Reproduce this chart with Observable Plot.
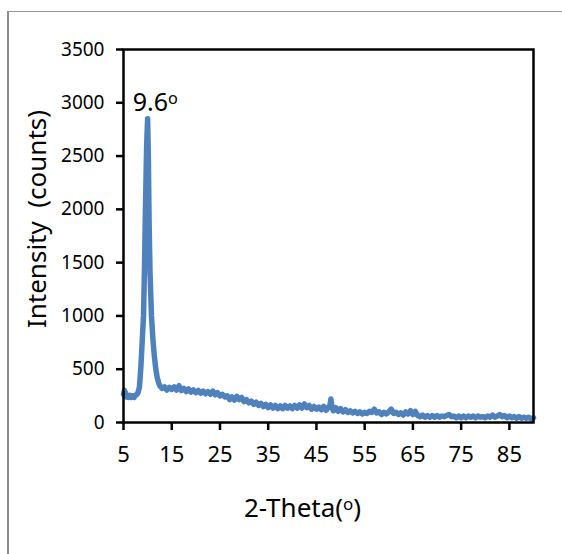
<!DOCTYPE html>
<html>
<head>
<meta charset="utf-8">
<script src="https://cdn.jsdelivr.net/npm/d3@7"></script>
<script src="https://cdn.jsdelivr.net/npm/@observablehq/plot@0.6"></script>
<style>
  html, body { margin: 0; padding: 0; background: white; overflow: hidden; }
  #wrap { position: relative; width: 562px; height: 554px; }
  #border { position: absolute; left: 7px; top: 11px; width: 600px; height: 600px;
            border-left: 2px solid #8a8a8a; border-top: 1px solid #959595; pointer-events: none; }
</style>
</head>
<body>
<div id="wrap"><div id="border"></div></div>
<script>
const twoTheta = [
  5.0, 5.2, 5.4, 5.6, 5.8, 6.0, 6.3, 6.6, 6.9, 7.2, 7.5, 7.8, 8.0, 8.3, 8.6, 8.9,
  9.15, 9.35, 9.55, 9.8, 10.0, 10.15, 10.3, 10.5, 10.8, 11.1, 11.4, 11.7, 12.0, 12.3, 12.6,
  13.0, 13.5, 14.0, 14.5, 15.0, 15.5, 16.0, 16.5, 17.0, 17.5, 18.0, 18.5, 19.0, 19.5,
  20.0, 20.5, 21.0, 21.5, 22.0, 22.5, 23.0, 23.5, 24.0, 24.5, 25.0, 25.5, 26.0, 26.5,
  27.0, 27.5, 28.0, 28.5, 29.0, 29.5, 30.0, 30.5, 31.0, 31.5, 32.0, 32.5, 33.0, 33.5,
  34.0, 34.5, 35.0, 35.5, 36.0, 36.5, 37.0, 37.5, 38.0, 38.5, 39.0, 39.5, 40.0, 40.5,
  41.0, 41.5, 42.0, 42.5, 43.0, 43.5, 44.0, 44.5, 45.0, 45.5, 46.0, 46.5, 47.0, 47.5,
  47.8, 48.0, 48.2, 48.5, 49.0, 49.5, 50.0, 50.5, 51.0, 51.5, 52.0, 52.5, 53.0, 53.5,
  54.0, 54.5, 55.0, 55.5, 56.0, 56.5, 57.0, 57.5, 58.0, 58.5, 59.0, 59.5, 60.0, 60.5,
  61.0, 61.5, 62.0, 62.5, 63.0, 63.5, 64.0, 64.5, 65.0, 65.5, 66.0, 66.5, 67.0, 67.5,
  68.0, 68.5, 69.0, 69.5, 70.0, 70.5, 71.0, 71.5, 72.0, 72.5, 73.0, 73.5, 74.0, 74.5,
  75.0, 75.5, 76.0, 76.5, 77.0, 77.5, 78.0, 78.5, 79.0, 79.5, 80.0, 80.5, 81.0, 81.5,
  82.0, 82.5, 83.0, 83.5, 84.0, 84.5, 85.0, 85.5, 86.0, 86.5, 87.0, 87.5, 88.0, 88.5,
  89.0, 89.5, 90.0
];
const intensity = [
  265, 300, 280, 240, 255, 235, 255, 235, 250, 235, 255, 265, 280, 330, 520, 780,
  1000, 1450, 2000, 2600, 2850, 2500, 1900, 1400, 1000, 780, 620, 500, 420, 370, 340,
  320, 335, 305, 330, 310, 335, 305, 345, 300, 320, 290, 315, 285, 305,
  280, 300, 275, 295, 270, 290, 265, 295, 260, 280, 250, 265, 240, 250,
  215, 240, 210, 245, 215, 235, 195, 215, 185, 200, 170, 190, 160, 180,
  150, 170, 140, 165, 135, 160, 130, 155, 130, 160, 135, 155, 130, 160,
  135, 165, 135, 175, 140, 160, 125, 150, 125, 145, 120, 150, 115, 145,
  160, 220, 150, 110, 140, 105, 130, 100, 120, 95, 110, 90, 105, 85,
  100, 80, 95, 85, 105, 95, 125, 90, 100, 75, 95, 80, 100, 125,
  85, 95, 75, 90, 70, 100, 80, 110, 75, 105, 65, 55, 70, 50,
  65, 50, 65, 50, 65, 50, 60, 55, 65, 75, 55, 60, 45, 60,
  45, 60, 45, 60, 50, 60, 45, 60, 50, 55, 45, 60, 50, 70,
  50, 60, 75, 55, 65, 45, 60, 45, 55, 40, 55, 40, 50, 40,
  50, 35, 45
];
const xTicks = [5, 15, 25, 35, 45, 55, 65, 75, 85];
const yTicks = [0, 500, 1000, 1500, 2000, 2500, 3000, 3500];
const peakLabel = [{x: 6.9, y: 3000, text: "9.6ᵒ"}];
const xTitle = "2-Theta(ᵒ)";
const yTitle = "Intensity  (counts)";

const data = twoTheta.map((t, i) => ({t, v: intensity[i]}));

const chart = Plot.plot({
  width: 562,
  height: 554,
  marginLeft: 123,
  marginRight: 29,
  marginTop: 49,
  marginBottom: 132,
  style: {fontFamily: "'Noto Sans', sans-serif", background: "transparent", color: "black", overflow: "visible"},
  x: {domain: [5, 90], label: null},
  y: {domain: [0, 3500], label: null},
  marks: [
    Plot.line(data, {x: "t", y: "v", stroke: "#4f81bd", strokeWidth: 5.5, strokeLinejoin: "round", strokeLinecap: "round"}),
    Plot.frame({stroke: "black", strokeWidth: 2.5}),
    Plot.axisY({ticks: yTicks, tickSize: 7, tickPadding: 12, fontSize: 19, strokeWidth: 2.5, label: null, tickFormat: d => String(d)}),
    Plot.axisX({ticks: xTicks, tickSize: 8, tickPadding: 16, fontSize: 22, strokeWidth: 2.5, label: null, tickFormat: d => String(d)}),
    Plot.text(peakLabel, {x: "x", y: "y", text: "text", textAnchor: "start", lineAnchor: "middle", fontSize: 25, fill: "black"}),
    Plot.text([yTitle], {text: d => d, frameAnchor: "left", rotate: -90, dx: -85.5, dy: -17, fontSize: 26, textAnchor: "middle", lineAnchor: "middle", fill: "black"}),
    Plot.text([xTitle], {text: d => d, frameAnchor: "bottom", dx: -26, dy: 86, fontSize: 26, textAnchor: "middle", lineAnchor: "middle", fill: "black"})
  ]
});
document.getElementById("wrap").prepend(chart);
</script>
</body>
</html>
